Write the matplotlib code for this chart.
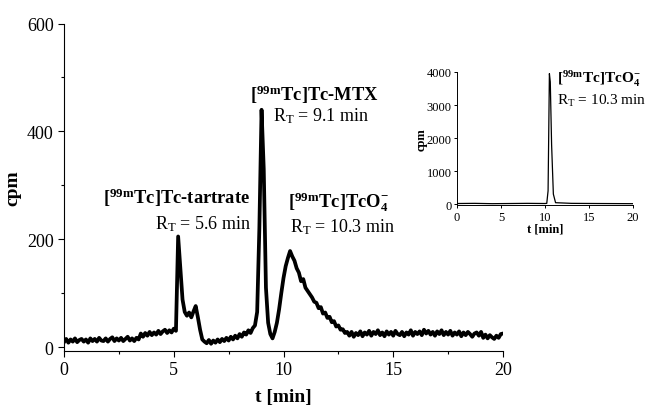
import numpy as np
import matplotlib
matplotlib.use("Agg")
import matplotlib.pyplot as plt
from matplotlib.ticker import MultipleLocator

plt.rcParams['font.family'] = ['Liberation Serif', 'DejaVu Serif']
plt.rcParams['mathtext.fontset'] = 'custom'
plt.rcParams['mathtext.rm'] = 'Liberation Serif'
plt.rcParams['mathtext.bf'] = 'Liberation Serif:bold'
plt.rcParams['mathtext.it'] = 'Liberation Serif:italic'

# ---- main radio-HPLC trace (0.1 min steps, 0..20 min) ----
cpm_main = [
    9, 15, 8, 14, 10, 16, 9, 13, 15, 10, 14, 8, 16, 11, 15, 10, 17, 12, 11, 16,
    10, 15, 18, 11, 16, 12, 17, 11, 15, 19, 12, 16, 11, 17, 14,
    25, 19, 26, 21, 28, 22, 27, 23, 30, 24, 29, 32, 26, 31, 27, 34, 30,
    205, 145, 88, 65, 58, 64, 55, 66, 76, 55, 32, 14, 10,
    7, 13, 6, 12, 8, 14, 9, 15, 11, 17, 12, 19, 14, 21, 16, 24, 19, 27, 23, 31,
    26, 35, 40,
    65, 220, 440, 330, 110, 45, 24, 16,
    28, 45, 70, 100, 128, 150, 165, 178, 168, 160, 146, 138, 122, 126,
    110, 104, 98, 92, 84, 82, 72, 74, 62, 64, 54, 56, 46, 48, 38, 40, 32, 33, 26, 28,
    21, 28, 19, 26, 22, 29, 20, 27, 23, 30, 21, 28, 24, 31, 22, 27, 20, 29, 23, 28,
    21, 30, 24, 22, 28, 20, 27, 23, 31, 21, 28, 24, 29, 22, 32, 25, 30, 23, 28, 21,
    29, 24, 31, 22, 28, 23, 30, 21, 27, 23, 29, 20, 27, 22, 28, 24, 19, 25, 27, 21,
    28, 17, 23, 16, 22, 18, 15, 21, 17, 24, 25,
]
t_main = np.linspace(0, 20, len(cpm_main))

# ---- inset trace (free pertechnetate) ----
t_inset = [0, 2, 4, 6, 8, 10, 10.2, 10.35, 10.5, 10.6, 10.75, 10.95, 11.2, 13, 16, 20]
cpm_inset = [15, 20, 10, 15, 20, 15, 20, 400, 3950, 3700, 1800, 300, 40, 20, 15, 10]

fig = plt.figure(figsize=(6.49, 4.10), dpi=100)

# main axes
ax = fig.add_axes([64/649, 1-352/410, (503-64)/649, (352-24.5)/410])
ax.plot(t_main, cpm_main, color='black', lw=2.7, solid_joinstyle='round')
ax.set_xlim(0, 20)
ax.set_ylim(-7.4, 600)
ax.spines['top'].set_visible(False)
ax.spines['right'].set_visible(False)
for s in ('left', 'bottom'):
    ax.spines[s].set_linewidth(0.8)
ax.xaxis.set_major_locator(MultipleLocator(5))
ax.xaxis.set_minor_locator(MultipleLocator(2.5))
ax.yaxis.set_major_locator(MultipleLocator(200))
ax.yaxis.set_minor_locator(MultipleLocator(100))
ax.tick_params(which='major', direction='out', length=4, width=0.8, labelsize=13)
ax.tick_params(which='minor', direction='out', length=2.5, width=0.8)
ax.set_xlabel('t [min]', fontsize=14, fontweight='bold', labelpad=7)
ax.set_ylabel('cpm', fontsize=14, fontweight='bold', labelpad=4)

lab_kw = dict(transform=fig.transFigure, fontsize=13.3, fontweight='bold')
rt_kw = dict(transform=fig.transFigure, fontsize=13)

def fx(px):
    return px / 649

def fy(py):
    return 1 - py / 410

fig.text(fx(103), fy(198), r'[$^{\mathbf{99m}}$Tc]Tc-tartrate', ha='left', va='center', **lab_kw)
fig.text(fx(251), fy(224), r'R$_{\mathrm{T}}$ = 5.6 min', ha='right', va='center', **rt_kw)

fig.text(fx(250), fy(95), r'[$^{\mathbf{99m}}$Tc]Tc-MTX', ha='left', va='center', **lab_kw)
fig.text(fx(273), fy(116), r'R$_{\mathrm{T}}$ = 9.1 min', ha='left', va='center', **rt_kw)

fig.text(fx(288), fy(202), r'[$^{\mathbf{99m}}$Tc]TcO$_{\mathbf{4}}^{\mathbf{-}}$', ha='left', va='center', **lab_kw)
fig.text(fx(290), fy(227), r'R$_{\mathrm{T}}$ = 10.3 min', ha='left', va='center', **rt_kw)

# inset axes
ins = fig.add_axes([457/649, 1-206/410, (633-457)/649, (206-73)/410])
ins.plot(t_inset, cpm_inset, color='black', lw=0.9)
ins.set_xlim(0, 20)
ins.set_ylim(-30, 4000)
ins.spines['top'].set_visible(False)
ins.spines['right'].set_visible(False)
for s in ('left', 'bottom'):
    ins.spines[s].set_linewidth(0.7)
ins.xaxis.set_major_locator(MultipleLocator(5))
ins.yaxis.set_major_locator(MultipleLocator(1000))
ins.tick_params(which='major', direction='out', length=2.5, width=0.7, labelsize=9, pad=1.5)
ins.set_xlabel('t [min]', fontsize=9, fontweight='bold', labelpad=0)
ins.set_ylabel('cpm', fontsize=9, fontweight='bold', labelpad=-1)

fig.text(fx(557), fy(79), r'[$^{\mathbf{99m}}$Tc]TcO$_{\mathbf{4}}^{\mathbf{-}}$', ha='left', va='center',
         transform=fig.transFigure, fontsize=11, fontweight='bold')
fig.text(fx(557), fy(101), r'R$_{\mathrm{T}}$ = 10.3 min', ha='left', va='center',
         transform=fig.transFigure, fontsize=11)

fig.savefig('out.png', dpi=100)
